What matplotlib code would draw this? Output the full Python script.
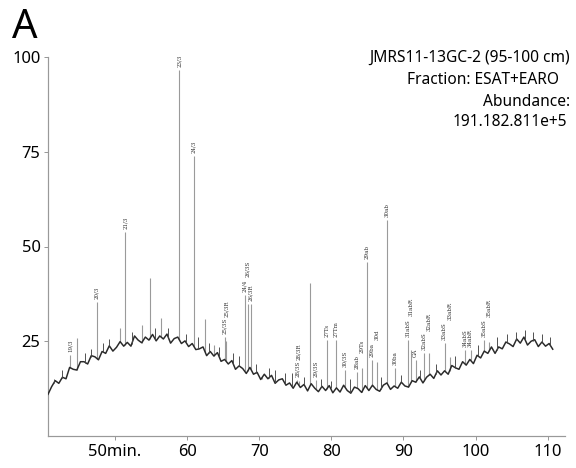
import numpy as np
import matplotlib
matplotlib.use("Agg")
import matplotlib.pyplot as plt

# ---------------- data ----------------
baseline_start = 40.7   # min
baseline_step = 0.5     # min
baseline_values = [
    11.0, 13.0, 14.6, 13.9, 15.5, 15.1, 18.1, 17.6, 17.4, 19.6,
    19.6, 19.0, 21.2, 20.9, 20.1, 22.3, 21.8, 23.8, 22.4, 23.4,
    24.9, 23.7, 24.7, 23.7, 26.4, 25.3, 24.6, 26.1, 25.3, 26.8,
    25.1, 26.4, 25.6, 26.9, 24.5, 25.7, 26.1, 24.4, 25.1, 23.6,
    24.4, 22.8, 23.0, 23.5, 21.2, 22.3, 21.1, 22.0, 19.7, 20.2,
    19.0, 19.9, 17.6, 18.5, 17.8, 16.5, 18.1, 16.3, 16.8, 14.9,
    16.3, 15.1, 16.0, 13.9, 14.8, 15.1, 13.4, 14.0, 12.6, 14.2,
    12.8, 13.6, 11.9, 13.8, 12.6, 11.7, 13.1, 12.0, 13.3, 11.4,
    12.7, 11.6, 13.4, 12.0, 11.3, 12.9, 12.5, 11.5, 13.3, 12.0,
    13.4, 12.3, 11.8, 13.4, 14.0, 12.3, 13.2, 12.6, 14.2, 13.2,
    12.9, 14.6, 14.2, 15.6, 14.0, 15.5, 16.3, 15.2, 17.2, 16.1,
    17.2, 16.3, 18.6, 18.0, 17.6, 19.6, 18.7, 20.2, 19.1, 21.3,
    20.6, 22.4, 21.8, 23.5, 21.8, 23.5, 23.0, 24.8, 24.3, 23.6,
    25.6, 24.5, 26.1, 24.0, 25.0, 25.4, 23.6, 24.8, 23.7, 24.4,
    22.9,
]

minor_times = [41.5, 42.6, 45.9, 46.6, 48.3, 49.2, 52.3, 55.6, 57.4, 59.8,
               61.5, 63.0, 64.4, 66.4, 67.2, 69.6, 71.3, 72.2, 73.6, 74.5,
               76.2, 78.6, 79.9, 82.6, 86.9, 89.7, 92.3, 94.5, 97.2, 100.4,
               103.0, 104.4, 105.6, 106.8, 107.9, 109.2, 110.3]
minor_heights = [15.0, 17.5, 22.0, 23.0, 24.5, 25.5, 27.5, 28.5, 28.5, 27.0,
                 26.0, 24.5, 23.5, 22.0, 21.0, 19.0, 18.0, 17.5, 16.5, 16.5,
                 15.5, 15.0, 14.5, 15.0, 15.5, 16.0, 17.5, 19.0, 21.0, 24.0,
                 26.0, 27.0, 27.5, 28.0, 27.5, 27.0, 26.0]

peak_times = [43.8, 44.7, 47.5, 50.7, 51.4, 53.7, 54.8, 56.4, 58.9, 60.9,
              62.5, 63.7, 65.2, 65.4, 68.0, 68.4, 68.8, 70.4, 75.3, 75.5,
              77.1, 77.8, 79.4, 80.7, 81.9, 83.5, 84.2, 84.9, 85.6, 86.3,
              87.7, 88.8, 90.6, 91.1, 91.7, 92.9, 93.6, 95.7, 96.4, 98.5,
              99.3, 101.2, 101.9]
peak_heights = [21.4, 25.9, 35.4, 28.6, 53.7, 29.4, 41.8, 31.2, 96.5, 74.0,
                31.0, 24.0, 26.0, 25.0, 37.3, 34.7, 34.7, 15.0, 14.8, 14.5,
                40.5, 14.8, 25.4, 25.4, 17.5, 17.0, 18.0, 45.8, 20.0, 19.6,
                57.1, 18.0, 25.4, 22.8, 20.0, 22.0, 22.0, 24.6, 20.9, 22.8,
                22.8, 25.4, 24.9]
peak_labels = ["19/3", "", "20/3", "", "21/3", "", "", "", "23/3", "24/3",
               "", "", "25/3S", "25/3R", "24/4", "26/3S", "26/3R", "", "28/3S", "28/3R",
               "", "29/3S", "27Ts", "27Tm", "30/3S", "28ab", "29Ts", "29ab", "29ba", "30d",
               "30ab", "30ba", "31abS", "31abR", "GA", "32abS", "32abR", "33abS", "33abR", "34abS",
               "34abR", "35abS", "35abR"]

y_ticks = [25, 50, 75, 100]
x_ticks = [50, 60, 70, 80, 90, 100, 110]
x_tick_labels = ["50min.", "60", "70", "80", "90", "100", "110"]

sample_name = "JMRS11-13GC-2 (95-100 cm)"
fraction_text = "Fraction: ESAT+EARO"
abundance_label = "Abundance:"
abundance_value = "191.182.811e+5"
panel_label = "A"

# ---------------- plot ----------------
plt.rcParams['font.family'] = ['Noto Sans', 'DejaVu Sans']
fig = plt.figure(figsize=(8, 6.5), dpi=72)
ax = fig.add_axes([48/576, 1 - 436/468, (565-48)/576, (436-57)/468])

t = baseline_start + baseline_step * np.arange(len(baseline_values))
base = np.array(baseline_values)
ax.plot(t, base, color='#2a2a2a', lw=1.5, zorder=3)

mt = np.array(minor_times)
ax.vlines(mt, np.interp(mt, t, base), minor_heights, color='#444444', lw=0.9, zorder=3)

pt = np.array(peak_times)
ph = np.array(peak_heights)
pb = np.interp(pt, t, base)
ax.vlines(pt, pb, ph, color='#9a9a9a', lw=1.1, zorder=2)

ax.set_xlim(40.7, 112.4)
ax.set_ylim(0, 100)
ax.spines['top'].set_visible(False)
ax.spines['right'].set_visible(False)
for s in ('left', 'bottom'):
    ax.spines[s].set_color('#999999')
    ax.spines[s].set_linewidth(1.2)
ax.set_yticks(y_ticks)
ax.set_yticklabels([str(v) for v in y_ticks])
ax.set_xticks(x_ticks)
ax.set_xticklabels(x_tick_labels)
ax.tick_params(axis='both', colors='#999999', labelcolor='black', labelsize=16.5,
               length=4, width=1)

# peak labels, stacked upward when they would collide
fig.canvas.draw()
renderer = fig.canvas.get_renderer()
placed = []
for x, h, lab in zip(pt, ph, peak_labels):
    if not lab:
        continue
    y = h + 0.8
    txt = ax.text(x, y, lab, rotation=90, ha='center', va='bottom',
                  fontsize=5.5, family=['DejaVu Serif'], color='#333333', clip_on=False)
    for _ in range(40):
        bb = txt.get_window_extent(renderer)
        if not any(bb.overlaps(p) for p in placed):
            break
        y += 0.8
        txt.set_y(y)
    placed.append(txt.get_window_extent(renderer).expanded(1.05, 1.02))

fig.text(570/576, 1 - 58/468, sample_name, ha='right', va='center', fontsize=15.5)
fig.text(559/576, 1 - 80/468, fraction_text, ha='right', va='center', fontsize=15.5)
fig.text(570/576, 1 - 102/468, abundance_label, ha='right', va='center', fontsize=15.5)
fig.text(567/576, 1 - 122/468, abundance_value, ha='right', va='center', fontsize=15.5)
fig.text(12/576, 1 - 38/468, panel_label, ha='left', va='baseline', fontsize=40)

fig.savefig("out.png", dpi=72)
